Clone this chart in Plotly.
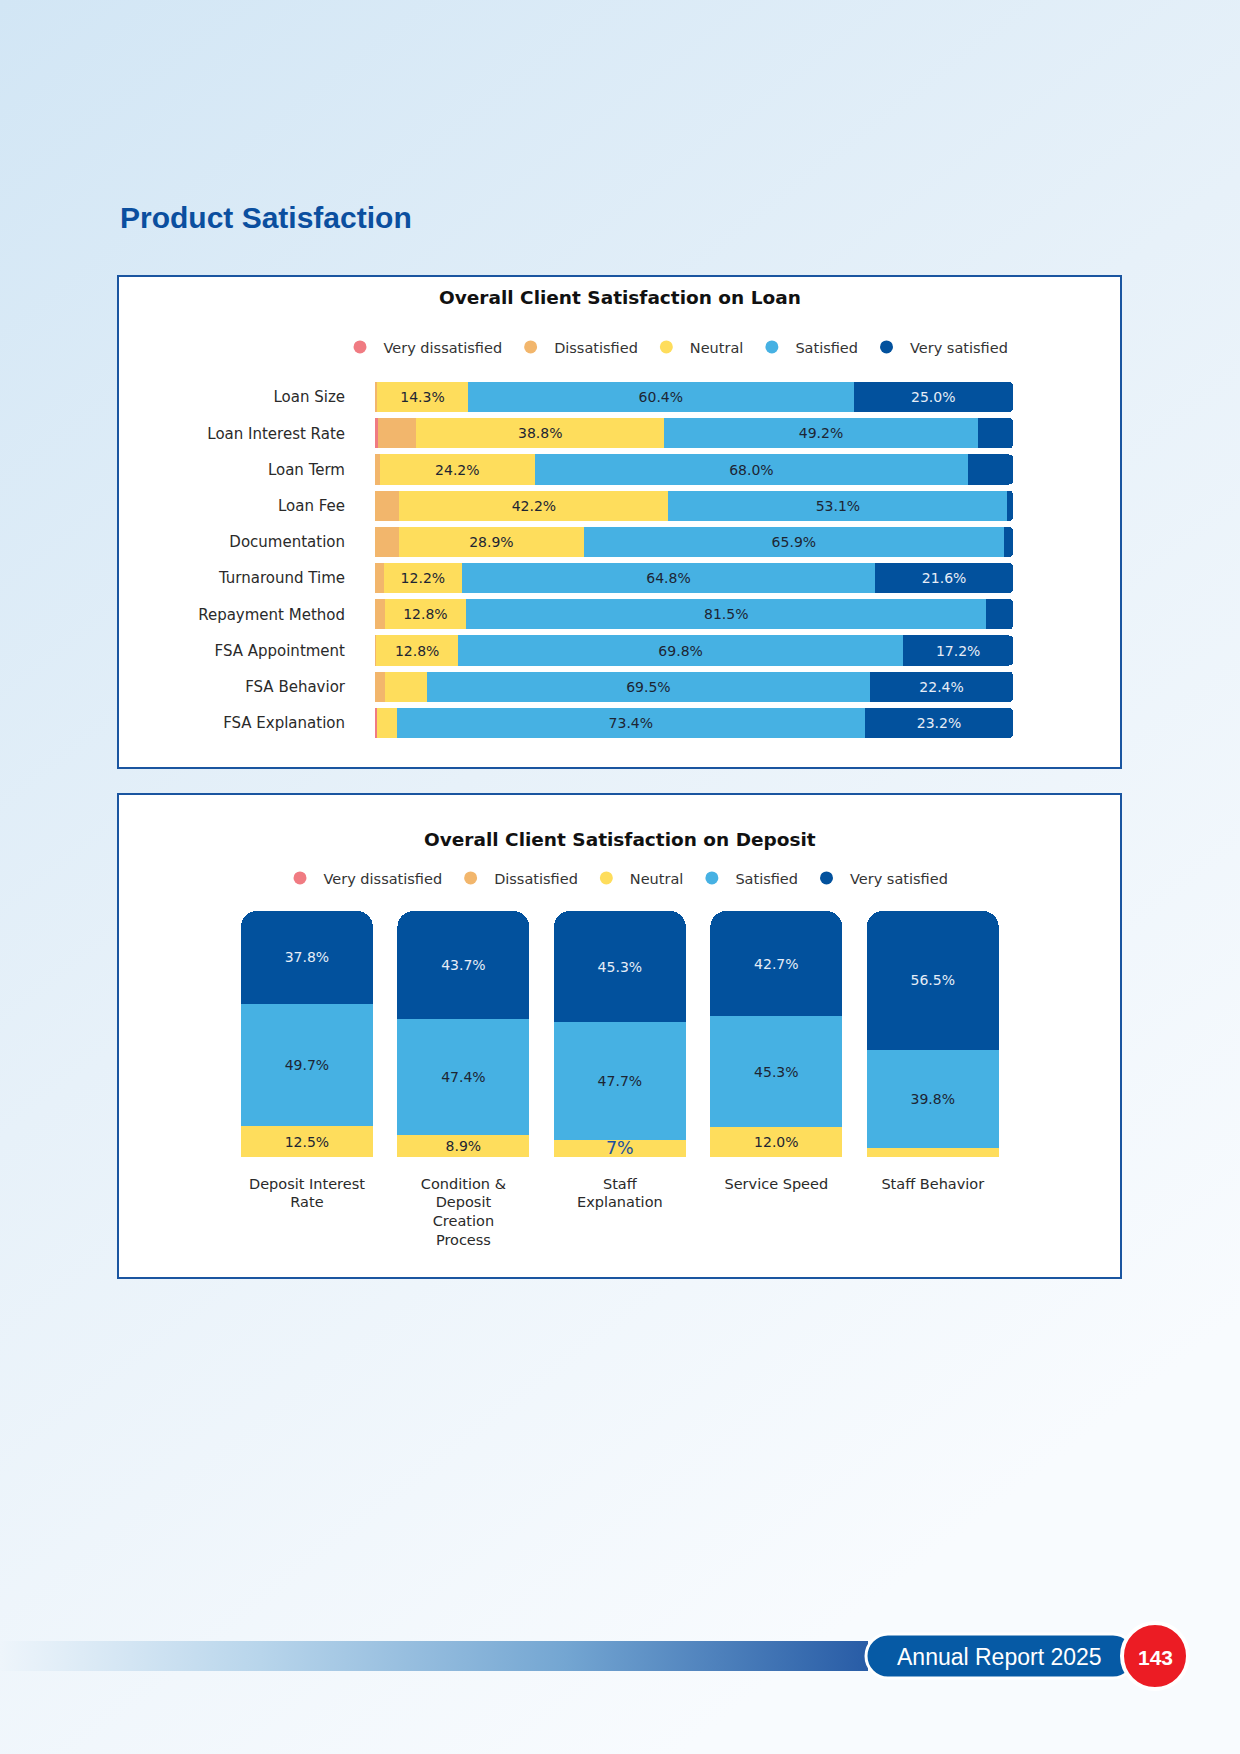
import base64
import plotly.graph_objects as go

W, H = 1240, 1754

# answer scale, shared by both charts
series = ["Very dissatisfied", "Dissatisfied", "Neutral", "Satisfied", "Very satisfied"]
colors = ["#f07b82", "#f2b66c", "#fedd5c", "#46b1e3", "#02519d"]
text_colors = ["#1d2533", "#1d2533", "#1d2533", "#1d2533", "#e6edf7"]

# loan chart (percent of clients)
loan_items = ["Loan Size", "Loan Interest Rate", "Loan Term", "Loan Fee", "Documentation",
              "Turnaround Time", "Repayment Method", "FSA Appointment", "FSA Behavior",
              "FSA Explanation"]
loan_vd = [0.0, 0.4, 0.0, 0.0, 0.0, 0.0, 0.0, 0.0, 0.0, 0.3]
loan_d = [0.3, 6.1, 0.8, 3.8, 3.8, 1.4, 1.5, 0.2, 1.6, 0.0]
loan_n = [14.3, 38.8, 24.2, 42.2, 28.9, 12.2, 12.8, 12.8, 6.5, 3.1]
loan_s = [60.4, 49.2, 68.0, 53.1, 65.9, 64.8, 81.5, 69.8, 69.5, 73.4]
loan_vs = [25.0, 5.5, 7.0, 0.9, 1.4, 21.6, 4.2, 17.2, 22.4, 23.2]

# deposit chart (percent of clients)
dep_items = ["Deposit Interest Rate", "Condition & Deposit Creation Process",
             "Staff Explanation", "Service Speed", "Staff Behavior"]
dep_ticks = ["Deposit Interest<br>Rate", "Condition &<br>Deposit<br>Creation<br>Process",
             "Staff<br>Explanation", "Service Speed", "Staff Behavior"]
dep_vd = [0.0, 0.0, 0.0, 0.0, 0.0]
dep_d = [0.0, 0.0, 0.0, 0.0, 0.0]
dep_n = [12.5, 8.9, 7, 12.0, 3.7]
dep_s = [49.7, 47.4, 47.7, 45.3, 39.8]
dep_vs = [37.8, 43.7, 45.3, 42.7, 56.5]


def px(x):
    return x / W


def py(y):
    return 1 - y / H


def labels(vals, cut):
    out = []
    for v in vals:
        if v < cut:
            out.append("")
        elif isinstance(v, int):
            out.append(f"{v}%")
        else:
            out.append(f"{v:.1f}%")
    return out


def rrect(x0, y0, x1, y1, r):
    # rounded rectangle path in paper units (pixel input)
    k = 0.5523 * r
    pts = [
        ("M", [(x0 + r, y0)]), ("L", [(x1 - r, y0)]),
        ("C", [(x1 - r + k, y0), (x1, y0 + r - k), (x1, y0 + r)]),
        ("L", [(x1, y1 - r)]),
        ("C", [(x1, y1 - r + k), (x1 - r + k, y1), (x1 - r, y1)]),
        ("L", [(x0 + r, y1)]),
        ("C", [(x0 + r - k, y1), (x0, y1 - r + k), (x0, y1 - r)]),
        ("L", [(x0, y0 + r)]),
        ("C", [(x0, y0 + r - k), (x0 + r - k, y0), (x0 + r, y0)]),
    ]
    s = ""
    for cmd, ps in pts:
        s += cmd + " ".join(f"{px(a):.5f},{py(b):.5f}" for a, b in ps) + " "
    return s + "Z"


fig = go.Figure()

loan_vals = [loan_vd, loan_d, loan_n, loan_s, loan_vs]
for i, name in enumerate(series):
    fig.add_trace(go.Bar(
        y=loan_items, x=loan_vals[i], orientation="h", name=name,
        marker=dict(color=colors[i], line=dict(width=0), cornerradius=4 if i == 0 else None),
        width=0.83, text=labels(loan_vals[i], 10), texttemplate="%{text}",
        textposition="inside", insidetextanchor="middle", textangle=0, constraintext="none",
        insidetextfont=dict(family="DejaVu Sans", size=14, color=text_colors[i]),
        showlegend=False, hoverinfo="skip", xaxis="x", yaxis="y",
    ))

dep_vals = [dep_vd, dep_d, dep_n, dep_s, dep_vs]
for i, name in enumerate(series):
    vals = dep_vals[i]
    sizes = [17.5 if isinstance(v, int) else 14 for v in vals]
    tcols = ["#1c4f9e" if isinstance(v, int) else text_colors[i] for v in vals]
    fig.add_trace(go.Bar(
        x=dep_items, y=vals, name=name,
        marker=dict(color=colors[i], line=dict(width=0), cornerradius=16 if i == 0 else None),
        width=0.843, text=labels(vals, 5), texttemplate="%{text}",
        textposition="inside", insidetextanchor="middle", textangle=0, constraintext="none",
        insidetextfont=dict(family="DejaVu Sans", size=sizes, color=tcols),
        showlegend=False, hoverinfo="skip", xaxis="x2", yaxis="y2",
    ))

# legend entries drawn as round markers, one legend per chart
for leg, ax, ay in [("legend", "x", "y"), ("legend2", "x2", "y2")]:
    for i, name in enumerate(series):
        fig.add_trace(go.Scatter(
            x=[None], y=[None], mode="markers", name=name, legend=leg,
            marker=dict(color=colors[i], size=13, symbol="circle"),
            xaxis=ax, yaxis=ay, hoverinfo="skip",
        ))

bg_svg = f'''<svg xmlns="http://www.w3.org/2000/svg" width="{W}" height="{H}" viewBox="0 0 {W} {H}" preserveAspectRatio="none">
<defs>
<linearGradient id="bg" x1="0" y1="0" x2="0.55" y2="1">
<stop offset="0" stop-color="#d2e6f5"/>
<stop offset="0.5" stop-color="#e7f1f9"/>
<stop offset="1" stop-color="#f8fbfe"/>
</linearGradient>
<linearGradient id="band" x1="0" y1="0" x2="1" y2="0">
<stop offset="0" stop-color="#eef5fb"/>
<stop offset="0.3" stop-color="#b8d5eb"/>
<stop offset="0.65" stop-color="#74a6d2"/>
<stop offset="1" stop-color="#285ca6"/>
</linearGradient>
</defs>
<rect width="{W}" height="{H}" fill="url(#bg)"/>
<rect x="0" y="1641" width="868" height="30" fill="url(#band)"/>
</svg>'''
bg_src = "data:image/svg+xml;base64," + base64.b64encode(bg_svg.encode()).decode()

legend_common = dict(orientation="h", yanchor="middle", xanchor="center", traceorder="normal",
                     bgcolor="rgba(0,0,0,0)", borderwidth=0, itemwidth=37,
                     font=dict(family="DejaVu Sans", size=14.5, color="#333333"))

fig.update_layout(
    width=W, height=H, autosize=False,
    margin=dict(l=0, r=0, t=0, b=0),
    paper_bgcolor="#e6f1f9", plot_bgcolor="rgba(0,0,0,0)",
    barmode="stack",
    images=[dict(source=bg_src, xref="paper", yref="paper", x=0, y=1, sizex=1, sizey=1,
                 xanchor="left", yanchor="top", sizing="stretch", layer="below")],
    xaxis=dict(domain=[px(375), px(1013)], range=[0, 100], visible=False, fixedrange=True),
    yaxis=dict(domain=[py(741), py(379)], type="category", categoryarray=loan_items,
               autorange="reversed", showgrid=False, zeroline=False, showline=False, ticks="",
               ticklabelstandoff=29,
               tickfont=dict(family="DejaVu Sans", size=15, color="#2a2a2a")),
    xaxis2=dict(domain=[px(228.7), px(1011)], type="category", categoryarray=dep_items,
                tickvals=dep_items, ticktext=dep_ticks, showgrid=False, zeroline=False,
                showline=False, ticks="", ticklabelstandoff=16, anchor="y2",
                tickfont=dict(family="DejaVu Sans", size=14.5, color="#2a2a2a")),
    yaxis2=dict(domain=[py(1157), py(911)], range=[0, 100], visible=False, anchor="x2"),
    legend=dict(x=px(675), y=py(347), **legend_common),
    legend2=dict(x=px(615), y=py(878), **legend_common),
    shapes=[
        dict(type="rect", xref="paper", yref="paper", x0=px(118), x1=px(1121), y0=py(276),
             y1=py(768), fillcolor="white", line=dict(color="#1a55a0", width=2), layer="below"),
        dict(type="rect", xref="paper", yref="paper", x0=px(118), x1=px(1121), y0=py(794),
             y1=py(1278), fillcolor="white", line=dict(color="#1a55a0", width=2), layer="below"),
        dict(type="path", xref="paper", yref="paper", path=rrect(866, 1634, 1135, 1678, 22),
             fillcolor="#065aa5", line=dict(color="white", width=3), layer="above"),
        dict(type="circle", xref="paper", yref="paper", x0=px(1122), x1=px(1188),
             y0=py(1623), y1=py(1689), fillcolor="#ec1c24", line=dict(color="white", width=4),
             layer="above"),
    ],
    annotations=[
        dict(text="<b>Product Satisfaction</b>", xref="paper", yref="paper", x=px(118),
             y=py(218), xanchor="left", yanchor="middle", showarrow=False,
             font=dict(family="Liberation Sans", size=30, color="#0b4f9f")),
        dict(text="<b>Overall Client Satisfaction on Loan</b>", xref="paper", yref="paper",
             x=px(620), y=py(298), xanchor="center", yanchor="middle", showarrow=False,
             font=dict(family="DejaVu Sans", size=18.5, color="#111111")),
        dict(text="<b>Overall Client Satisfaction on Deposit</b>", xref="paper", yref="paper",
             x=px(620), y=py(839), xanchor="center", yanchor="middle", showarrow=False,
             font=dict(family="DejaVu Sans", size=18.5, color="#111111")),
        dict(text="Annual Report 2025", xref="paper", yref="paper", x=px(999), y=py(1657),
             xanchor="center", yanchor="middle", showarrow=False,
             font=dict(family="Liberation Sans", size=23, color="white")),
        dict(text="<b>143</b>", xref="paper", yref="paper", x=px(1155), y=py(1657),
             xanchor="center", yanchor="middle", showarrow=False,
             font=dict(family="Liberation Sans", size=21, color="white")),
    ],
)

fig.write_html("out.html", config={"displayModeBar": False},
               post_script="document.body.style.margin='0';")
